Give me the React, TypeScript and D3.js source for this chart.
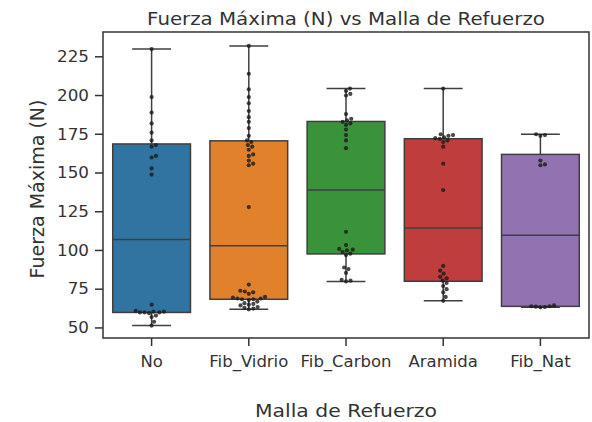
import React from 'react';
import * as d3 from 'd3';

const categories = ['No', 'Fib_Vidrio', 'Fib_Carbon', 'Aramida', 'Fib_Nat'];
const boxColors = ['#3274a1', '#e1812c', '#3a923a', '#c03d3e', '#9372b2'];
const yTicks = [50, 75, 100, 125, 150, 175, 200, 225];

// Fuerza máxima (N) por tipo de malla
const noValues = [230, 199, 189, 182, 176, 171, 168, 167, 161, 160, 153, 149,
  65, 61, 60.5, 60.5, 60, 60, 60, 59.5, 58, 57, 54, 51.5];
const vidrioValues = [232, 214, 204, 199, 195, 190, 186, 183, 179, 174, 171, 170, 168, 167, 165, 162, 161, 158, 156, 155, 128,
  78, 74, 73.5, 73, 72, 70, 69.5, 69, 69, 68.5, 68.5, 68, 67, 66, 65.5, 65, 64.5, 63.5, 63, 62.5, 62];
const carbonValues = [204.5, 203, 201, 200, 188, 185, 184, 183, 182, 181, 178, 174.5, 171, 166,
  112, 103.5, 101, 100.5, 100, 99, 98, 97, 89, 88, 85.5, 81, 80.5, 80];
const aramidaValues = [204.5, 175, 174.5, 174, 173, 172.5, 172, 171, 170, 167, 156, 139,
  90, 87, 85, 83, 82, 80.5, 79, 77, 75, 73, 70, 67.5];
const natValues = [175, 174.5, 174, 158, 155.5, 155, 64.5, 64, 64, 63.7, 63.5, 63.3];

const seriesValues = [noValues, vidrioValues, carbonValues, aramidaValues, natValues];

const W = 592;
const H = 422;
const margin = { top: 32, right: 3, bottom: 84, left: 103 };
const font = 'DejaVu Sans, sans-serif';
const lineColor = '#3f3f3f';

function boxStats(vals: number[]) {
  const s = [...vals].sort((a, b) => a - b);
  const q1 = d3.quantile(s, 0.25)!;
  const med = d3.quantile(s, 0.5)!;
  const q3 = d3.quantile(s, 0.75)!;
  const iqr = q3 - q1;
  const lo = d3.min(s.filter(v => v >= q1 - 1.5 * iqr))!;
  const hi = d3.max(s.filter(v => v <= q3 + 1.5 * iqr))!;
  return { q1, med, q3, lo, hi };
}

// simple beeswarm: place each point at the nearest free offset from the centre
function swarm(ys: number[], d: number): number[] {
  const order = ys.map((_, i) => i).sort((a, b) => ys[b] - ys[a]);
  const xs = new Array(ys.length).fill(0);
  const placed: number[] = [];
  for (const i of order) {
    const near = placed.filter(j => Math.abs(ys[j] - ys[i]) < d);
    const cands = [0];
    near.forEach(j => {
      const dx = Math.sqrt(d * d - (ys[j] - ys[i]) ** 2);
      cands.push(xs[j] + dx, xs[j] - dx);
    });
    cands.sort((a, b) => Math.abs(a) - Math.abs(b));
    const ok = cands.find(c => near.every(j => (c - xs[j]) ** 2 + (ys[j] - ys[i]) ** 2 >= d * d - 1e-6));
    xs[i] = ok ?? 0;
    placed.push(i);
  }
  return xs;
}

export default function App() {
  const x = d3.scaleBand<string>().domain(categories).range([margin.left, W - margin.right]).padding(0);
  const y = d3.scaleLinear().domain([43.5, 241]).range([H - margin.bottom, margin.top]);
  const bw = x.bandwidth();
  const boxW = bw * 0.8;
  const capW = boxW * 0.5;
  const plotBottom = H - margin.bottom;
  const plotRight = W - margin.right;
  const midX = (margin.left + plotRight) / 2;

  return (
    <svg width={W} height={H} style={{ position: 'absolute', left: 0, top: 0, background: '#fff' }}
      fontFamily={font}>
      <rect x={0} y={0} width={W} height={H} fill="#fff" />

      {categories.map((c, i) => {
        const st = boxStats(seriesValues[i]);
        const cx = x(c)! + bw / 2;
        return (
          <g key={c}>
            <line x1={cx} x2={cx} y1={y(st.q3)} y2={y(st.hi)} stroke={lineColor} strokeWidth={1.5} />
            <line x1={cx} x2={cx} y1={y(st.q1)} y2={y(st.lo)} stroke={lineColor} strokeWidth={1.5} />
            <line x1={cx - capW / 2} x2={cx + capW / 2} y1={y(st.hi)} y2={y(st.hi)} stroke={lineColor} strokeWidth={1.5} />
            <line x1={cx - capW / 2} x2={cx + capW / 2} y1={y(st.lo)} y2={y(st.lo)} stroke={lineColor} strokeWidth={1.5} />
            <rect x={cx - boxW / 2} y={y(st.q3)} width={boxW} height={y(st.q1) - y(st.q3)}
              fill={boxColors[i]} stroke={lineColor} strokeWidth={1.5} />
            <line x1={cx - boxW / 2} x2={cx + boxW / 2} y1={y(st.med)} y2={y(st.med)} stroke={lineColor} strokeWidth={1.5} />
          </g>
        );
      })}

      {categories.map((c, i) => {
        const cx = x(c)! + bw / 2;
        const ys = seriesValues[i].map(v => y(v));
        const offs = swarm(ys, 4.6);
        return (
          <g key={c + '-pts'}>
            {ys.map((py, k) => (
              <circle key={k} cx={cx + offs[k]} cy={py} r={2.1} fill="#1a1a1a" fillOpacity={0.8} />
            ))}
          </g>
        );
      })}

      {/* frame */}
      <rect x={margin.left} y={margin.top} width={plotRight - margin.left} height={plotBottom - margin.top}
        fill="none" stroke="#333" strokeWidth={1.5} />

      {/* y axis */}
      {yTicks.map(t => (
        <g key={t}>
          <line x1={margin.left - 8} x2={margin.left} y1={y(t)} y2={y(t)} stroke="#333" strokeWidth={1.5} />
          <text transform={`translate(${margin.left - 14},${y(t)}) scale(1.08,1)`} textAnchor="end"
            dominantBaseline="central" fontSize={15.5} fill="#333">{t}</text>
        </g>
      ))}

      {/* x axis */}
      {categories.map(c => {
        const cx = x(c)! + bw / 2;
        return (
          <g key={c + '-tick'}>
            <line x1={cx} x2={cx} y1={plotBottom} y2={plotBottom + 8} stroke="#333" strokeWidth={1.5} />
            <text transform={`translate(${cx},${plotBottom + 29}) scale(1.1,1)`} textAnchor="middle"
              fontSize={15} fill="#333">{c}</text>
          </g>
        );
      })}

      <text transform={`translate(${midX},25) scale(1.1,1)`} textAnchor="middle" fontSize={18} fill="#333">
        Fuerza Máxima (N) vs Malla de Refuerzo
      </text>
      <text transform={`translate(${midX},417) scale(1.1,1)`} textAnchor="middle" fontSize={18.5} fill="#333">
        Malla de Refuerzo
      </text>
      <text transform={`translate(44,${(margin.top + plotBottom) / 2 + 4}) rotate(-90)`} textAnchor="middle"
        fontSize={19} fill="#333">
        Fuerza Máxima (N)
      </text>
    </svg>
  );
}
